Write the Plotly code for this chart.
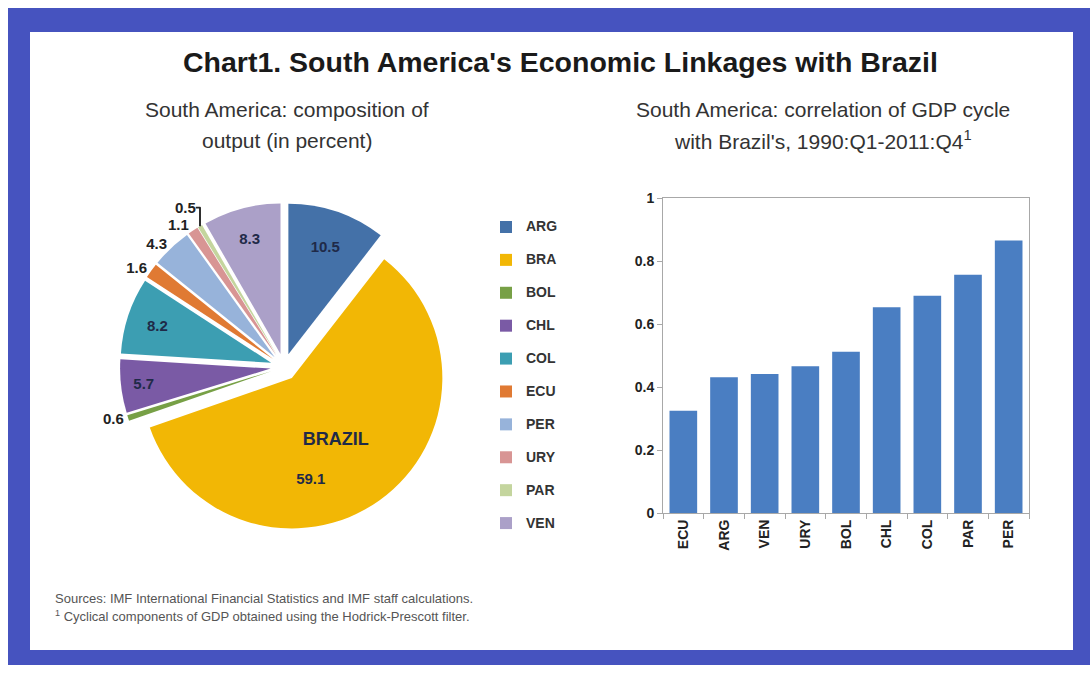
import plotly.graph_objects as go

W, H = 1090, 673

# ---- data ----
pie_countries = ["ARG", "BRA", "BOL", "CHL", "COL", "ECU", "PER", "URY", "PAR", "VEN"]
pie_shares = [10.5, 59.1, 0.6, 5.7, 8.2, 1.6, 4.3, 1.1, 0.5, 8.3]
pie_colors = ["#4471A8", "#F2B705", "#77A046", "#7A5AA5", "#3C9EB2",
              "#E07A33", "#97B3DA", "#D89594", "#C4D59E", "#ABA0C8"]
pie_textpos = ["inside", "inside", "outside", "inside", "inside",
               "outside", "outside", "outside", "outside", "inside"]

bar_countries = ["ECU", "ARG", "VEN", "URY", "BOL", "CHL", "COL", "PAR", "PER"]
bar_corr = [0.325, 0.431, 0.441, 0.466, 0.512, 0.653, 0.690, 0.756, 0.865]
y_ticks = [0, 0.2, 0.4, 0.6, 0.8, 1]
y_ticklabels = ["0", "0.2", "0.4", "0.6", "0.8", "1"]

FONT = "Liberation Sans, Arial"
NB = "\u00a0"
FRAME_BLUE = "#4653BF"


def px(x):
    return x / W


def py(y):
    # vertical placement as photographed: paper spans screen rows 8..665
    return min(1.0, max(0.0, 1 - (y - 8) / 657))


pie_text = []
for c, v in zip(pie_countries, pie_shares):
    if c == "BRA":
        pie_text.append(NB + "<br>" + NB + "<br>"
                        + "<span style='font-size:18px'><b>BRAZIL</b></span><br><br>"
                        + f"<b>{v:.1f}</b>" + NB * 12)
    else:
        pie_text.append(f"<b>{v:.1f}</b>")

legend_labels = ["<span style='font-size:14px;font-weight:bold'>%s</span><br> " % c
                 for c in pie_countries]

fig = go.Figure()

fig.add_trace(go.Pie(
    labels=legend_labels,
    values=pie_shares,
    text=pie_text,
    textinfo="text",
    textposition=pie_textpos,
    sort=False,
    direction="clockwise",
    rotation=0,
    pull=[0.09] * len(pie_shares),
    marker=dict(colors=pie_colors, line=dict(width=0)),
    insidetextorientation="horizontal",
    insidetextfont=dict(family=FONT, size=15, color="#1F2A48"),
    outsidetextfont=dict(family=FONT, size=15, color="#222222"),
    domain=dict(x=[px(120), px(448)], y=[py(542), py(192)]),
    hoverinfo="value",
    showlegend=True,
))

fig.add_trace(go.Bar(
    x=bar_countries,
    y=bar_corr,
    marker=dict(color="#4A7EC2", line=dict(width=0)),
    xaxis="x", yaxis="y",
    showlegend=False,
))

fig.update_layout(
    width=W, height=H,
    autosize=False,
    margin=dict(l=0, r=0, t=0, b=0, pad=0),
    paper_bgcolor="white",
    plot_bgcolor="rgba(0,0,0,0)",
    font=dict(family=FONT, color="#222222"),
    bargap=0.32,
    xaxis=dict(
        domain=[px(663), px(1029)],
        anchor="y",
        type="category",
        tickvals=bar_countries,
        ticktext=["<b>%s</b>" % c for c in bar_countries],
        showline=True, linecolor="#A8A8A8", linewidth=1, mirror=True,
        showgrid=False, zeroline=False,
        ticks="outside", ticklen=5, tickcolor="#A8A8A8",
        tickson="boundaries",
        tickangle=-90,
        tickfont=dict(family=FONT, size=14, color="#222222"),
    ),
    yaxis=dict(
        domain=[py(513), py(198)],
        anchor="x",
        range=[0, 1],
        tickvals=y_ticks, ticktext=["<b>%s</b>" % t for t in y_ticklabels],
        showline=True, linecolor="#A8A8A8", linewidth=1, mirror=True,
        showgrid=False, zeroline=False,
        ticks="outside", ticklen=5, tickcolor="#A8A8A8",
        tickfont=dict(family=FONT, size=14, color="#222222"),
    ),
    legend=dict(
        x=px(486), y=py(213), xanchor="left", yanchor="top",
        font=dict(family=FONT, size=11.5, color="#333333"),
        valign="top",
        itemwidth=30,
        bgcolor="rgba(0,0,0,0)",
        tracegroupgap=0,
    ),
    shapes=[
        dict(type="rect", xref="paper", yref="paper", layer="below",
             x0=px(8), x1=1, y0=0, y1=py(6),
             fillcolor=FRAME_BLUE, line=dict(width=0)),
        dict(type="rect", xref="paper", yref="paper", layer="below",
             x0=px(30), x1=px(1073), y0=py(650), y1=py(32),
             fillcolor="white", line=dict(width=0)),
    ],
)

ann = [
    dict(text="<b>Chart1. South America's Economic Linkages with Brazil</b>",
         x=px(560), y=py(62), font=dict(size=28.5, color="#1A1A1A")),
    dict(text="South America: composition of",
         x=px(287), y=py(109), font=dict(size=21, color="#333333")),
    dict(text="output (in percent)",
         x=px(287), y=py(140), font=dict(size=21, color="#333333")),
    dict(text="South America: correlation of GDP cycle",
         x=px(823), y=py(109), font=dict(size=21, color="#333333")),
    dict(text="with Brazil's, 1990:Q1-2011:Q4<sup>1</sup>",
         x=px(823), y=py(140), font=dict(size=21, color="#333333")),
    dict(text="Sources: IMF International Financial Statistics and IMF staff calculations.",
         x=px(53), y=py(598), xanchor="left", font=dict(size=13, color="#555555")),
    dict(text="<sup>1</sup> Cyclical components of GDP obtained using the Hodrick-Prescott filter.",
         x=px(53), y=py(616), xanchor="left", font=dict(size=13, color="#555555")),
]
for a in ann:
    a.setdefault("xanchor", "center")
    a.update(xref="paper", yref="paper", showarrow=False, yanchor="middle")
    a["font"]["family"] = FONT
fig.update_layout(annotations=ann)

post = (
    "document.documentElement.style.margin='0px';"
    "document.body.style.margin='0px';document.body.style.padding='0px';"
    "document.body.style.overflow='hidden';"
    "var gd=document.getElementById('{plot_id}');"
    "gd.style.position='fixed';gd.style.top='0px';gd.style.left='0px';"
)

fig.write_html("out.html", config={"displayModeBar": False}, post_script=post)
